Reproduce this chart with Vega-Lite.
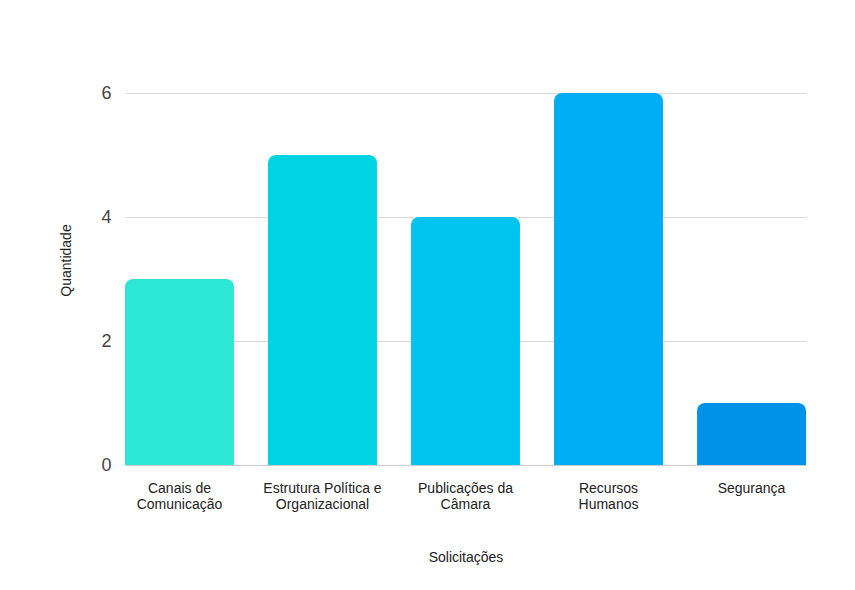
{
  "$schema": "https://vega.github.io/schema/vega-lite/v6.json",
  "width": 681,
  "height": 372,
  "autosize": {"type": "none"},
  "padding": {"left": 125, "top": 93, "right": 49, "bottom": 125},
  "background": "white",
  "config": {
    "view": {"stroke": null},
    "font": "Liberation Sans"
  },
  "data": {
    "values": [
      {"Solicitacoes": "Canais de Comunicação", "Quantidade": 3},
      {"Solicitacoes": "Estrutura Política e Organizacional", "Quantidade": 5},
      {"Solicitacoes": "Publicações da Câmara", "Quantidade": 4},
      {"Solicitacoes": "Recursos Humanos", "Quantidade": 6},
      {"Solicitacoes": "Segurança", "Quantidade": 1}
    ]
  },
  "mark": {"type": "bar", "cornerRadiusTopLeft": 8, "cornerRadiusTopRight": 8},
  "encoding": {
    "x": {
      "field": "Solicitacoes",
      "type": "nominal",
      "sort": null,
      "scale": {"paddingInner": 0.238, "paddingOuter": 0},
      "axis": {
        "title": "Solicitações",
        "titleFont": "Liberation Sans",
        "titleFontWeight": "normal",
        "titleFontSize": 14,
        "titleColor": "#222222",
        "titleY": 96,
        "titleBaseline": "alphabetic",
        "labelAngle": 0,
        "labelFontSize": 14,
        "labelColor": "#222222",
        "labelLineHeight": 16,
        "labelPadding": 16,
        "labelBaseline": "top",
        "labelLimit": 200,
        "labelExpr": "datum.label == 'Canais de Comunicação' ? ['Canais de', 'Comunicação'] : datum.label == 'Estrutura Política e Organizacional' ? ['Estrutura Política e', 'Organizacional'] : datum.label == 'Publicações da Câmara' ? ['Publicações da', 'Câmara'] : datum.label == 'Recursos Humanos' ? ['Recursos', 'Humanos'] : '\u00a0\u00a0\u00a0\u00a0' + datum.label",
        "ticks": false,
        "domain": true,
        "domainColor": "#cccccc",
        "grid": false
      }
    },
    "y": {
      "field": "Quantidade",
      "type": "quantitative",
      "scale": {"domain": [0, 6], "nice": false},
      "axis": {
        "title": "Quantidade",
        "titleFont": "Liberation Sans",
        "titleFontWeight": "normal",
        "titleFontSize": 14,
        "titleColor": "#222222",
        "titleX": -59,
        "titleY": 167,
        "titleBaseline": "middle",
        "values": [0, 2, 4, 6],
        "labelFontSize": 18,
        "labelColor": "#444444",
        "labelPadding": 14,
        "ticks": false,
        "domain": false,
        "grid": true,
        "gridColor": "#d9d9d9",
        "gridWidth": 1
      }
    },
    "color": {
      "field": "Solicitacoes",
      "type": "nominal",
      "sort": null,
      "scale": {"range": ["#2ce6d6", "#00d4e2", "#00c4ef", "#00adf5", "#0092e8"]},
      "legend": null
    }
  }
}
